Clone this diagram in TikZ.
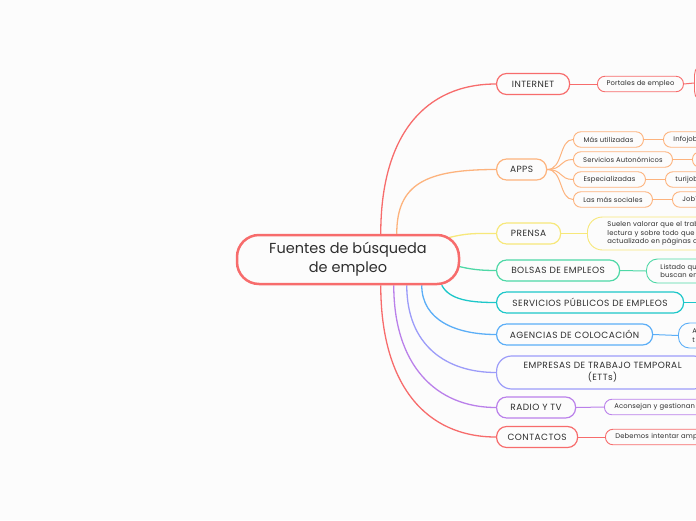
\documentclass[tikz,border=0pt]{standalone}
\usepackage{fontspec}
\setmainfont{Poppins}
\newfontfamily\spacedfont[LetterSpace=5]{Poppins}
\newfontfamily\smallspaced[LetterSpace=2]{Poppins}
\usetikzlibrary{calc}
\pgfdeclarelayer{bg}
\pgfsetlayers{bg,main}
\definecolor{bgc}{HTML}{FCFCFC}
\definecolor{txt}{HTML}{2E2E2E}
\definecolor{cred}{HTML}{F76C6C}
\definecolor{corange}{HTML}{FDB37D}
\definecolor{cyellow}{HTML}{F7E87A}
\definecolor{cgreen}{HTML}{4ED8A6}
\definecolor{cteal}{HTML}{1DC7C9}
\definecolor{cblue}{HTML}{5BAEF7}
\definecolor{cperi}{HTML}{9C9CF9}
\definecolor{cpurple}{HTML}{BA80EA}
\tikzset{
  rootbox/.style={draw=cred, fill=bgc, text=txt, line width=2.5pt, rounded corners=22pt,
    minimum width=222pt, minimum height=49pt, inner sep=0pt, align=center,
    font=\fontsize{14.5}{19}\selectfont},
  lvlone/.style={draw=#1, fill=bgc, text=txt, line width=1.2pt, rounded corners=10pt,
    minimum height=21pt, inner sep=0pt, anchor=west, align=center,
    font=\spacedfont\fontsize{9}{12}\selectfont},
  lvltwo/.style={draw=#1, fill=bgc, text=txt, line width=0.9pt, rounded corners=7.5pt,
    minimum height=15.5pt, inner sep=0pt, anchor=west, align=center,
    font=\smallspaced\fontsize{6.8}{8.6}\selectfont},
  cutbox/.style={text width=#1, align=left, inner xsep=10pt},
  linkone/.style={draw=#1, line width=1.3pt},
  linktwo/.style={draw=#1, line width=1pt},
}
\begin{document}
\begin{tikzpicture}[x=1pt, y=-1pt]
\begin{scope}
\clip (0,0) rectangle (696,520);
% root
\node[rootbox] (root) at (348,259.5) {Fuentes de búsqueda\\de empleo};
% level one
\node[lvlone=cred, minimum width=73pt] (internet) at (496,84) {INTERNET};
\node[lvlone=corange, minimum width=50pt] (apps) at (496,169.5) {APPS};
\node[lvlone=cyellow, minimum width=64pt] (prensa) at (496,233.5) {PRENSA};
\node[lvlone=cgreen, minimum width=123pt] (bolsas) at (496,270.5) {BOLSAS DE EMPLEOS};
\node[lvlone=cteal, minimum width=187pt] (servicios) at (496,302.5) {SERVICIOS PÚBLICOS DE EMPLEOS};
\node[lvlone=cblue, minimum width=156pt] (agencias) at (496,334.5) {AGENCIAS DE COLOCACIÓN};
\node[lvlone=cperi, minimum width=212pt, minimum height=33pt, rounded corners=15pt] (empresas) at (496,372.5) {EMPRESAS DE TRABAJO TEMPORAL\\(ETTs)};
\node[lvlone=cpurple, minimum width=79pt] (radio) at (496,407.5) {RADIO Y TV};
\node[lvlone=cred, minimum width=81pt] (contactos) at (496,437) {CONTACTOS};
% level two
\node[lvltwo=cred, minimum width=86pt] (portales) at (597,84) {Portales de empleo};
\node[lvltwo=cred, minimum width=60pt, minimum height=40pt, rounded corners=12pt] (internetdet) at (694,83) {};
\node[lvltwo=corange, minimum width=70pt] (masutil) at (573,139.5) {Más utilizadas};
\node[lvltwo=corange, minimum width=99pt] (servaut) at (573,159.5) {Servicios Autonómicos};
\node[lvltwo=corange, minimum width=72pt] (espec) at (573,179.5) {Especializadas};
\node[lvltwo=corange, minimum width=79pt] (lasmas) at (573,199.5) {Las más sociales};
\node[lvltwo=corange, cutbox=50pt] (infojobs) at (663,139.5) {Infojob};
\node[lvltwo=corange, cutbox=50pt] (servautdet) at (692,159.5) {};
\node[lvltwo=corange, cutbox=50pt] (turijob) at (665,179.5) {turijob};
\node[lvltwo=corange, cutbox=50pt] (jobt) at (672,199.5) {JobT};
\node[lvltwo=cyellow, cutbox=140pt, inner xsep=20pt, minimum height=33pt, rounded corners=15pt] (prensadet) at (587,233.5)
  {Suelen valorar que el trab\\lectura y sobre todo que e\\actualizado en páginas de};
\node[lvltwo=cgreen, cutbox=80pt, inner xsep=14pt, minimum height=24pt, rounded corners=11pt] (bolsasdet) at (646,271)
  {Listado qu\\buscan em};
\coordinate (servend) at (700,302.5);
\node[lvltwo=cblue, cutbox=60pt, inner xsep=14pt, minimum height=25pt, rounded corners=11pt] (agenciasdet) at (678,335.5)
  {A\\t};
\node[lvltwo=cpurple, cutbox=120pt] (radiodet) at (604,407) {Aconsejan y gestionan b};
\node[lvltwo=cred, cutbox=120pt] (contactosdet) at (605,437) {Debemos intentar ampli};
\end{scope}
\begin{pgfonlayer}{bg}
\fill[bgc] (0,0) rectangle (696,520);
\clip (0,0) rectangle (696,520);
% root to level one
\draw[linkone=cred] ([xshift=145pt]root.north west) .. controls +(0,-100) and +(-70,0) .. (internet.west);
\draw[linkone=corange] ([xshift=161pt]root.north west) .. controls +(0,-50) and +(-70,0) .. (apps.west);
\draw[linkone=cyellow] ($(root.north east)+(-12,4)$) .. controls +(20,-5) and +(-20,0) .. (prensa.west);
\draw[linkone=cgreen] ($(root.east)+(-5,6)$) .. controls +(15,4) and +(-15,0) .. (bolsas.west);
\draw[linkone=cteal] ([xshift=206pt]root.south west) .. controls +(8,15) and +(-25,0) .. (servicios.west);
\draw[linkone=cblue] ([xshift=186pt]root.south west) .. controls +(0,35) and +(-40,0) .. (agencias.west);
\draw[linkone=cperi] ([xshift=171pt]root.south west) .. controls +(0,60) and +(-50,0) .. (empresas.west);
\draw[linkone=cpurple] ([xshift=158pt]root.south west) .. controls +(0,80) and +(-60,0) .. (radio.west);
\draw[linkone=cred] ([xshift=145pt]root.south west) .. controls +(0,100) and +(-70,0) .. (contactos.west);
% level one to level two
\draw[linktwo=cred] (internet.east) -- (portales.west);
\draw[linktwo=cred] (portales.east) -- (internetdet.west);
\foreach \c in {masutil,servaut,espec,lasmas}
  \draw[linktwo=corange] (apps.east) .. controls +(16,0) and +(-14,0) .. (\c.west);
\draw[linktwo=corange] (masutil.east) -- (infojobs.west);
\draw[linktwo=corange] (servaut.east) -- (servautdet.west);
\draw[linktwo=corange] (espec.east) -- (turijob.west);
\draw[linktwo=corange] (lasmas.east) -- (jobt.west);
\draw[linktwo=cyellow] (prensa.east) -- (prensadet.west);
\draw[linktwo=cgreen] (bolsas.east) -- (bolsasdet.west);
\draw[linktwo=cteal] (servicios.east) -- (servend);
\draw[linktwo=cblue] (agencias.east) -- (agenciasdet.west);
\draw[linktwo=cpurple] (radio.east) -- (radiodet.west);
\draw[linktwo=cred] (contactos.east) -- (contactosdet.west);
\end{pgfonlayer}
\pgfresetboundingbox
\useasboundingbox (0,0) rectangle (696,520);
\end{tikzpicture}
\end{document}
